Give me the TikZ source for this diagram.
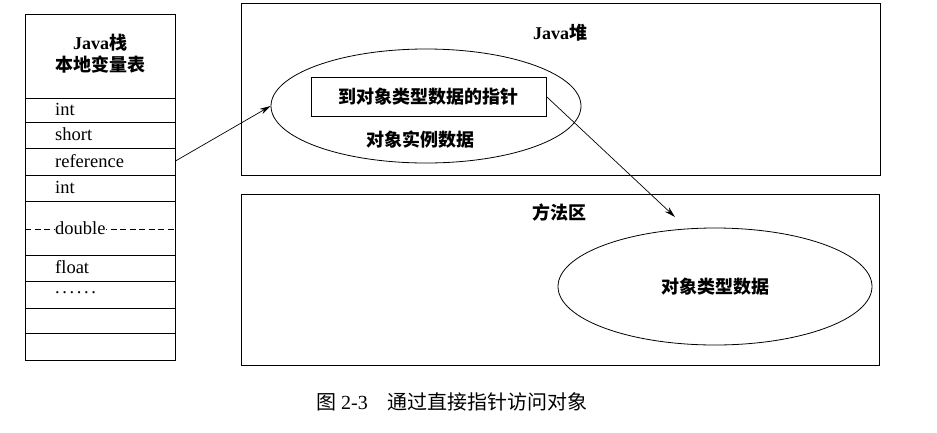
\documentclass[tikz,border=0pt]{standalone}
\usepackage{fontspec}
\setmainfont{Liberation Serif}
\newfontfamily\cjk{Noto Sans CJK SC}
\usetikzlibrary{shapes.geometric,arrows.meta,positioning}
\newcommand\rowdots{.\hspace{2.6pt}.\hspace{2.6pt}.\hspace{2.6pt}.\hspace{2.6pt}.\hspace{2.6pt}.}

\begin{document}
\begin{tikzpicture}[x=1pt, y=-1pt,
  area/.style={rectangle, draw, line width=0.9pt, inner sep=0pt},
  blob/.style={ellipse, draw, line width=0.8pt, inner sep=0pt},
  cell/.style={anchor=west, inner sep=0pt, font=\fontsize{18.5}{20}\selectfont},
  title/.style={font=\fontsize{18}{22}\selectfont\bfseries\cjk, align=center, inner sep=0pt},
  arr/.style={-{Stealth[length=11pt, width=6pt]}, line width=0.7pt}
]
  \useasboundingbox (0,0) rectangle (937,432);

  % Java stack
  \node[area, minimum width=150pt, minimum height=346pt] (stack) at (100,187) {};
  \node[title] (stacktitle) at (100,54) {{\rmfamily Java}栈\\本地变量表};
  \foreach \y in {98,122,148,175,201,255,281,308,333}
    \draw[line width=0.8pt] (25,\y) -- (175,\y);
  \draw[dash pattern=on 6pt off 3.5pt, line width=0.8pt] (25,229) -- (175,229);
  \foreach \y/\t/\n in {109/int/c1, 134/short/c2, 161/reference/ref, 187/int/c4,
                        267/float/c6, 293/\rowdots/c7}
    \node[cell] (\n) at (55,\y) {\t};
  \node[cell, fill=white, inner xsep=0pt] (c5) at (55,228) {double};
  \coordinate (refport) at (stack.east |- ref);

  % Java heap
  \node[area, minimum width=639pt, minimum height=172pt] (heap) at (560.5,89.5) {};
  \node[title] (heaptitle) at (560,33) {{\rmfamily Java}堆};
  \node[blob, minimum width=310pt, minimum height=114pt] (obj) at (426,106) {};
  \node[area, line width=0.8pt, minimum width=235pt, minimum height=39pt, font=\fontsize{18}{20}\selectfont\bfseries\cjk]
    (ptr) at (428.5,96.5) {到对象类型数据的指针};
  \node[title] (objdata) at (420,140) {对象实例数据};

  % method area
  \node[area, minimum width=638pt, minimum height=171pt] (method) at (560,280) {};
  \node[title] (methodtitle) at (559,213) {方法区};
  \node[blob, minimum width=314pt, minimum height=117pt, font=\fontsize{18}{20}\selectfont\bfseries\cjk]
    (typedata) at (715,286.5) {对象类型数据};
  \coordinate (tip) at (675,217);

  \draw[arr] (refport) -- (obj.west);
  \draw[arr] (ptr.east) -- (tip);

  \node[font=\fontsize{20}{22}\selectfont, inner sep=0pt] (caption) at (452,402)
    {{\cjk 图} 2-3\hspace{1em}{\cjk 通过直接指针访问对象}};
\end{tikzpicture}
\end{document}
